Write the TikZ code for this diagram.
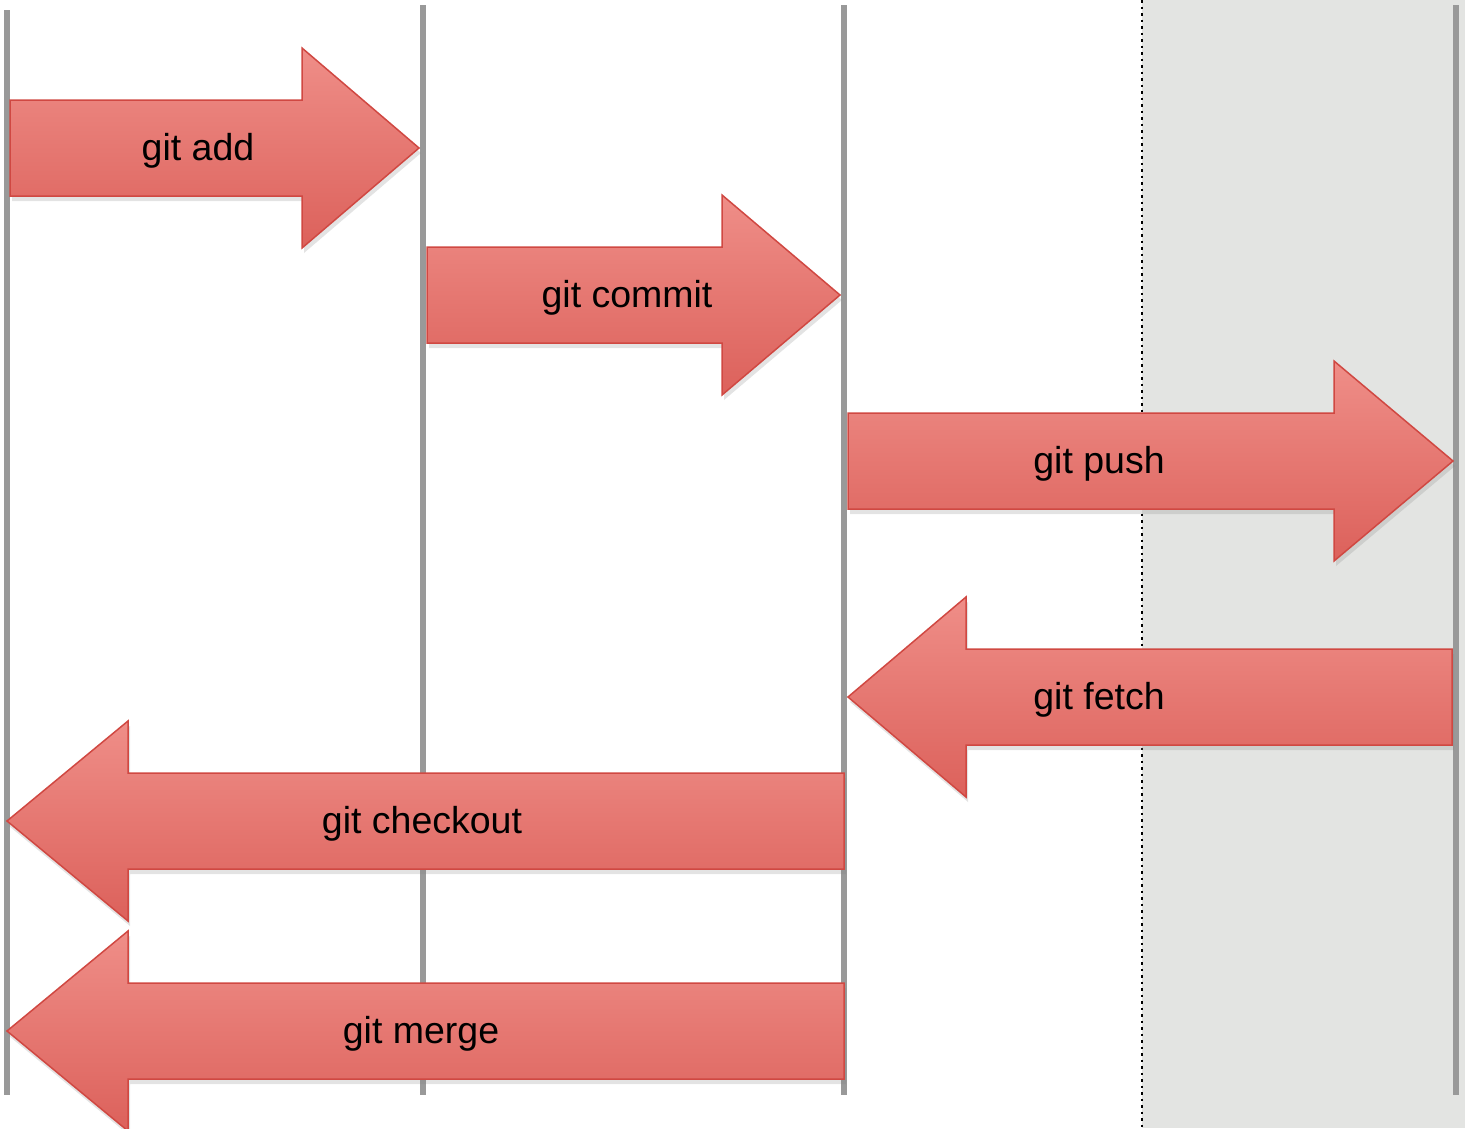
\documentclass[tikz,border=0pt]{standalone}
\usepackage{fontspec}
\setmainfont{Liberation Sans}
\usetikzlibrary{shadows}
\definecolor{lanegray}{HTML}{999999}
\definecolor{remotebg}{HTML}{E3E4E2}
\definecolor{arrtop}{HTML}{EF8E88}
\definecolor{arrbot}{HTML}{DC615B}
\definecolor{arredge}{HTML}{D04842}
\newcommand{\gitArrowRight}[7]{% name, x1, xh, x2, yc, label x, label
  \path[gitarrow] (#2,#5-48) -- (#3,#5-48) -- (#3,#5-100) -- (#4,#5) -- (#3,#5+100) -- (#3,#5+48) -- (#2,#5+48) -- cycle;
  \node[cmd] (#1) at (#6,#5+3) {#7};}
\newcommand{\gitArrowLeft}[7]{% name, x1(tip), xh, x2, yc, label x, label
  \path[gitarrow] (#4,#5-48) -- (#3,#5-48) -- (#3,#5-100) -- (#2,#5) -- (#3,#5+100) -- (#3,#5+48) -- (#4,#5+48) -- cycle;
  \node[cmd] (#1) at (#6,#5+3) {#7};}
\begin{document}
\begin{tikzpicture}[x=1pt,y=-1pt,
  lane/.style={draw=lanegray,line width=6pt},
  gitarrow/.style={draw=arredge,line width=1.5pt,top color=arrtop,bottom color=arrbot,
    drop shadow={opacity=0.22,shadow xshift=2pt,shadow yshift=-5pt}},
  cmd/.style={font=\fontsize{37.5}{42}\selectfont,text=black,inner sep=0pt}]
\useasboundingbox (0,0) rectangle (1465,1128);
% remote area
\fill[remotebg] (1142,0) rectangle (1465,1128);
\coordinate (dtop) at (1142,0);
\coordinate (dbot) at (1142,1128);
\draw[black,line width=1.5pt,dash pattern=on 2.5pt off 4pt] (dtop) -- (dbot);
% lanes
\coordinate (l1t) at (7,10);   \coordinate (l1b) at (7,1095);
\coordinate (l2t) at (423,5);  \coordinate (l2b) at (423,1095);
\coordinate (l3t) at (844,5);  \coordinate (l3b) at (844,1095);
\coordinate (l4t) at (1456,5); \coordinate (l4b) at (1456,1095);
\draw[lane] (l1t) -- (l1b);
\draw[lane] (l2t) -- (l2b);
\draw[lane] (l3t) -- (l3b);
\draw[lane] (l4t) -- (l4b);
% arrows
\gitArrowRight{add}{10}{302}{419}{148}{198}{git add}
\gitArrowRight{commit}{427}{722}{840}{295}{627}{git commit}
\gitArrowRight{push}{848}{1334}{1453}{461}{1099}{git push}
\gitArrowLeft{fetch}{848}{966}{1452}{697}{1099}{git fetch}
\gitArrowLeft{checkout}{7}{128}{844}{821}{422}{git checkout}
\gitArrowLeft{merge}{7}{128}{844}{1031}{421}{git merge}
\end{tikzpicture}
\end{document}
